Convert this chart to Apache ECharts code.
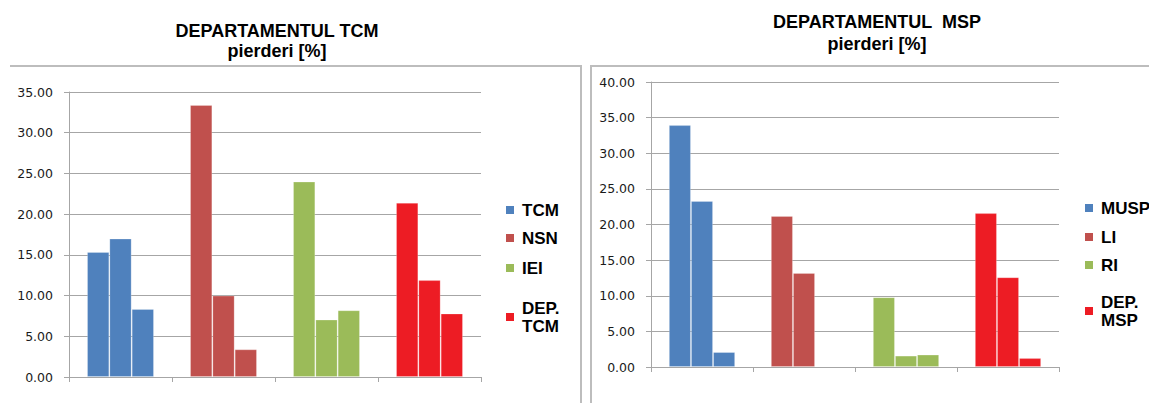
<!DOCTYPE html>
<html>
<head>
<meta charset="utf-8">
<script src="https://cdn.jsdelivr.net/npm/echarts@6/dist/echarts.min.js"></script>
<style>
html,body{margin:0;padding:0;background:#fff;}
#c{width:1149px;height:403px;}
</style>
</head>
<body>
<div id="c"></div>
<script>
// ---- data ----
var tcmCategories = ['TCM', 'NSN', 'IEI', 'DEP. TCM'];
var tcmBar1 = [15.35, 33.4, 24.0, 21.4];
var tcmBar2 = [17.0, 10.0, 7.05, 11.9];
var tcmBar3 = [8.35, 3.4, 8.2, 7.8];
var tcmTicks = [0, 5, 10, 15, 20, 25, 30, 35];

var mspCategories = ['MUSP', 'LI', 'RI', 'DEP. MSP'];
var mspBar1 = [33.95, 21.2, 9.8, 21.6];
var mspBar2 = [23.3, 13.2, 1.6, 12.6];
var mspBar3 = [2.1, null, 1.75, 1.25];
var mspTicks = [0, 5, 10, 15, 20, 25, 30, 35, 40];

var catColors = ['#4F81BD', '#C0504D', '#9BBB59', '#ED1C24'];

// ---- chart ----
var chart = echarts.init(document.getElementById('c'), null, {renderer: 'svg'});
var labelFont = {fontFamily: 'DejaVu Sans', fontSize: 12.5, color: '#1a1a1a'};
var gridColor = '#a6a6a6';

function yAxis(gi, ticks) {
  return {
    type: 'value', gridIndex: gi,
    min: ticks[0], max: ticks[ticks.length - 1], interval: ticks[1] - ticks[0],
    axisLine: {show: true, lineStyle: {color: gridColor, width: 1}},
    axisTick: {show: true, length: 5, lineStyle: {color: gridColor}},
    splitLine: {show: true, lineStyle: {color: gridColor, width: 1}},
    axisLabel: Object.assign({margin: 16, formatter: function (v) { return v.toFixed(2); }}, labelFont)
  };
}
function xAxis(gi, cats) {
  return {
    type: 'category', gridIndex: gi, data: cats,
    axisLine: {show: true, lineStyle: {color: gridColor, width: 1}},
    axisTick: {show: true, length: 5, interval: 0, lineStyle: {color: gridColor}},
    axisLabel: {show: false}
  };
}
function barSeries(gi, data) {
  return {
    type: 'bar', xAxisIndex: gi, yAxisIndex: gi, data: data,
    barGap: '0%', barCategoryGap: '35%',
    itemStyle: {
      color: function (p) { return catColors[p.dataIndex]; },
      borderColor: 'rgba(255,255,255,0.22)', borderWidth: 1
    },
    silent: true
  };
}
function legendSeries(gi, name, color) {
  return {
    type: 'line', name: name, xAxisIndex: gi, yAxisIndex: gi, data: [],
    itemStyle: {color: color}, lineStyle: {color: color}
  };
}
var legendText = {fontFamily: 'Liberation Sans', fontWeight: 'bold', fontSize: 17, color: '#000', lineHeight: 18, padding: [0, 0, 0, 3]};
function legendItem(name, x, y) {
  return {
    data: [name], left: x, top: y, orient: 'vertical', icon: 'rect',
    itemWidth: 8, itemHeight: 8, padding: 0, selectedMode: false,
    formatter: function (n) { return n.replace(' ', '\n'); },
    textStyle: legendText
  };
}

var series = [
  barSeries(0, tcmBar1), barSeries(0, tcmBar2), barSeries(0, tcmBar3),
  barSeries(1, mspBar1), barSeries(1, mspBar2), barSeries(1, mspBar3)
];
tcmCategories.forEach(function (c, i) { series.push(legendSeries(0, c, catColors[i])); });
mspCategories.forEach(function (c, i) { series.push(legendSeries(1, c, catColors[i])); });

var titleStyle = {fontFamily: 'Liberation Sans', fontWeight: 'bold', fontSize: 18, color: '#000'};

chart.setOption({
  animation: false,
  backgroundColor: '#fff',
  title: [
    {text: 'DEPARTAMENTUL TCM\npierderi [%]', left: 277, top: 21, textAlign: 'center', padding: 0,
     textStyle: Object.assign({lineHeight: 20, align: 'center'}, titleStyle)},
    {text: 'DEPARTAMENTUL  MSP\npierderi [%]', left: 877, top: 11, textAlign: 'center', padding: 0,
     textStyle: Object.assign({lineHeight: 22, align: 'center'}, titleStyle)}
  ],
  grid: [
    {left: 69, top: 92, width: 412, height: 285},
    {left: 651, top: 82, width: 408, height: 285}
  ],
  xAxis: [xAxis(0, tcmCategories), xAxis(1, mspCategories)],
  yAxis: [yAxis(0, tcmTicks), yAxis(1, mspTicks)],
  legend: [
    legendItem('TCM', 506, 201),
    legendItem('NSN', 506, 229),
    legendItem('IEI', 506, 259),
    legendItem('DEP. TCM', 506, 299),
    legendItem('MUSP', 1085, 199),
    legendItem('LI', 1085, 228),
    legendItem('RI', 1085, 256),
    legendItem('DEP. MSP', 1085, 293)
  ],
  graphic: [
    {type: 'polyline', silent: true, shape: {points: [[10, 66], [581, 66], [581, 403]]},
     style: {stroke: '#bdbdbd', lineWidth: 2, fill: null}},
    {type: 'polyline', silent: true, shape: {points: [[591, 403], [591, 66], [1149, 66]]},
     style: {stroke: '#bdbdbd', lineWidth: 2, fill: null}}
  ],
  series: series
});
</script>
</body>
</html>
